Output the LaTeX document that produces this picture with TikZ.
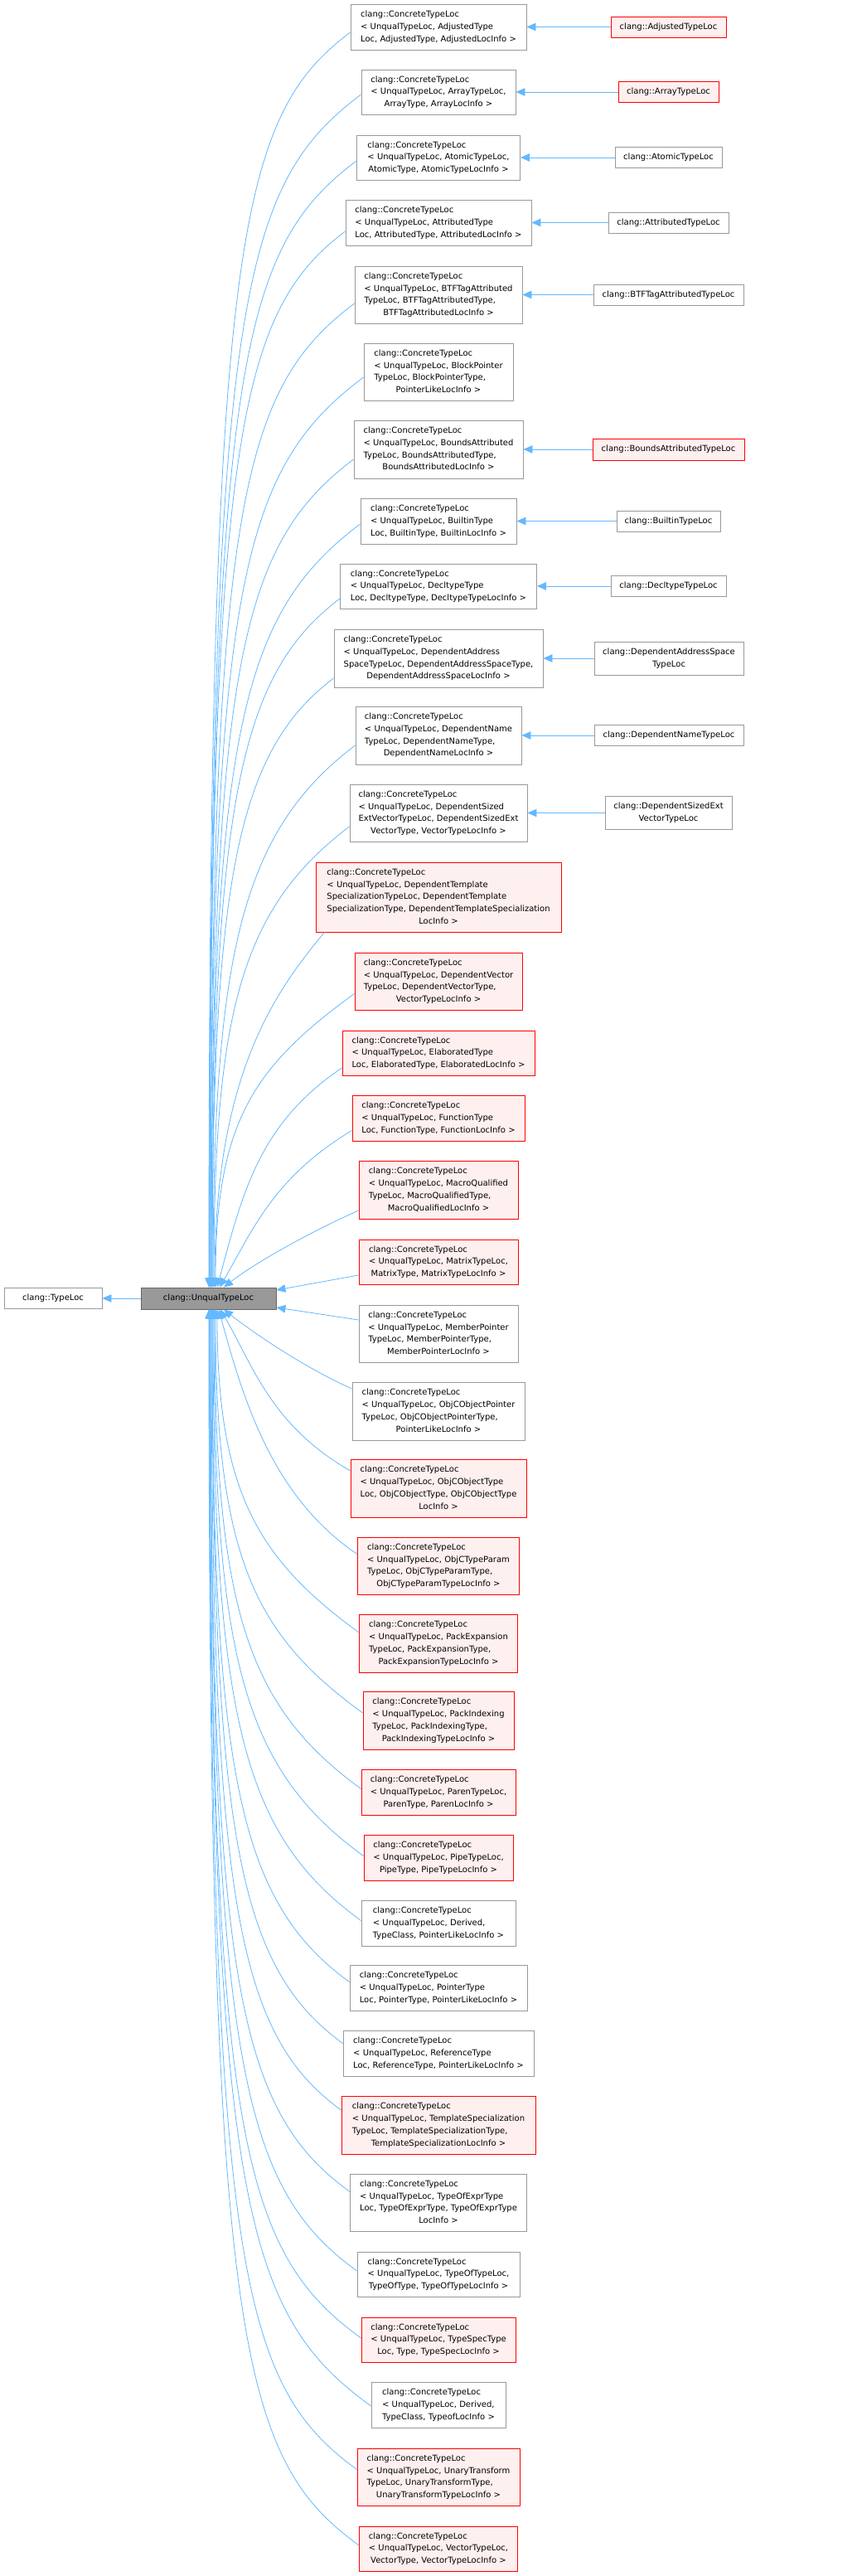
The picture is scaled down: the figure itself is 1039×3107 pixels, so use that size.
\documentclass[tikz,border=0pt]{standalone}
\usepackage{fontspec}
\setmainfont{DejaVu Sans}
\usetikzlibrary{arrows.meta}
\definecolor{edgeblue}{HTML}{63B8FF}
\definecolor{boxgray}{HTML}{999999}
\definecolor{redfill}{HTML}{FFF0F0}
\definecolor{redline}{HTML}{FF0000}
\definecolor{uqborder}{HTML}{666666}
\newcommand\ctl[2]{\begin{tabular}{@{}l@{}}clang::ConcreteTypeLoc\\#1\\\multicolumn{1}{@{}c@{}}{#2}\end{tabular}}
\tikzset{
  base/.style={font=\fontsize{10pt}{14.7pt}\selectfont, inner sep=0pt, line width=0.9pt},
  wbox/.style={base, draw=boxgray, fill=white},
  rbox/.style={base, draw=redline, fill=redfill},
  gbox/.style={base, draw=uqborder, fill=boxgray},
  sz/.style 2 args={minimum width=#1pt, minimum height=#2pt},
  edge/.style={draw=edgeblue, line width=0.8pt, -{Triangle[length=11pt,width=9.5pt,fill=edgeblue]}}
}
\begin{document}
\begin{tikzpicture}[x=1pt,y=1pt]
\useasboundingbox (0,0) rectangle (1039,-3107);
% left
\node[wbox, sz={118}{25}] (tl) at (64,-1566) {clang::TypeLoc};
\node[gbox, sz={163}{26}] (uq) at (251.5,-1566) {clang::UnqualTypeLoc};
% middle column
\node[wbox, sz={212}{55}] (b1) at (529,-32.5) {\ctl{< UnqualTypeLoc, AdjustedType}{Loc, AdjustedType, AdjustedLocInfo >}};
\node[wbox, sz={186}{54}] (b2) at (529,-111) {\ctl{< UnqualTypeLoc, ArrayTypeLoc,}{ArrayType, ArrayLocInfo >}};
\node[wbox, sz={197}{54}] (b3) at (529,-190) {\ctl{< UnqualTypeLoc, AtomicTypeLoc,}{AtomicType, AtomicTypeLocInfo >}};
\node[wbox, sz={224}{55}] (b4) at (529,-268.5) {\ctl{< UnqualTypeLoc, AttributedType}{Loc, AttributedType, AttributedLocInfo >}};
\node[wbox, sz={202}{69}] (b5) at (529,-355.5) {\ctl{< UnqualTypeLoc, BTFTagAttributed\\TypeLoc, BTFTagAttributedType,}{BTFTagAttributedLocInfo >}};
\node[wbox, sz={180}{69}] (b6) at (529,-448.5) {\ctl{< UnqualTypeLoc, BlockPointer\\TypeLoc, BlockPointerType,}{PointerLikeLocInfo >}};
\node[wbox, sz={204}{70}] (b7) at (529,-542) {\ctl{< UnqualTypeLoc, BoundsAttributed\\TypeLoc, BoundsAttributedType,}{BoundsAttributedLocInfo >}};
\node[wbox, sz={188}{55}] (b8) at (529,-628.5) {\ctl{< UnqualTypeLoc, BuiltinType}{Loc, BuiltinType, BuiltinLocInfo >}};
\node[wbox, sz={237}{54}] (b9) at (529,-707) {\ctl{< UnqualTypeLoc, DecltypeType}{Loc, DecltypeType, DecltypeTypeLocInfo >}};
\node[wbox, sz={252}{70}] (b10) at (529,-794) {\ctl{< UnqualTypeLoc, DependentAddress\\SpaceTypeLoc, DependentAddressSpaceType,}{DependentAddressSpaceLocInfo >}};
\node[wbox, sz={200}{70}] (b11) at (529,-887) {\ctl{< UnqualTypeLoc, DependentName\\TypeLoc, DependentNameType,}{DependentNameLocInfo >}};
\node[wbox, sz={214}{69}] (b12) at (529,-980.5) {\ctl{< UnqualTypeLoc, DependentSized\\ExtVectorTypeLoc, DependentSizedExt}{VectorType, VectorTypeLocInfo >}};
\node[rbox, sz={296}{84}] (b13) at (529,-1082) {\ctl{< UnqualTypeLoc, DependentTemplate\\SpecializationTypeLoc, DependentTemplate\\SpecializationType, DependentTemplateSpecialization}{LocInfo >}};
\node[rbox, sz={202}{69}] (b14) at (529,-1183.5) {\ctl{< UnqualTypeLoc, DependentVector\\TypeLoc, DependentVectorType,}{VectorTypeLocInfo >}};
\node[rbox, sz={232}{54}] (b15) at (529,-1270) {\ctl{< UnqualTypeLoc, ElaboratedType}{Loc, ElaboratedType, ElaboratedLocInfo >}};
\node[rbox, sz={208}{55}] (b16) at (529,-1348.5) {\ctl{< UnqualTypeLoc, FunctionType}{Loc, FunctionType, FunctionLocInfo >}};
\node[rbox, sz={192}{70}] (b17) at (529,-1435) {\ctl{< UnqualTypeLoc, MacroQualified\\TypeLoc, MacroQualifiedType,}{MacroQualifiedLocInfo >}};
\node[rbox, sz={192}{54}] (b18) at (529,-1522) {\ctl{< UnqualTypeLoc, MatrixTypeLoc,}{MatrixType, MatrixTypeLocInfo >}};
\node[wbox, sz={192}{69}] (b19) at (529,-1608.5) {\ctl{< UnqualTypeLoc, MemberPointer\\TypeLoc, MemberPointerType,}{MemberPointerLocInfo >}};
\node[wbox, sz={208}{70}] (b20) at (529,-1702) {\ctl{< UnqualTypeLoc, ObjCObjectPointer\\TypeLoc, ObjCObjectPointerType,}{PointerLikeLocInfo >}};
\node[rbox, sz={212}{70}] (b21) at (529,-1795) {\ctl{< UnqualTypeLoc, ObjCObjectType\\Loc, ObjCObjectType, ObjCObjectType}{LocInfo >}};
\node[rbox, sz={195}{69}] (b22) at (529,-1888.5) {\ctl{< UnqualTypeLoc, ObjCTypeParam\\TypeLoc, ObjCTypeParamType,}{ObjCTypeParamTypeLocInfo >}};
\node[rbox, sz={191}{70}] (b23) at (529,-1982) {\ctl{< UnqualTypeLoc, PackExpansion\\TypeLoc, PackExpansionType,}{PackExpansionTypeLocInfo >}};
\node[rbox, sz={182}{70}] (b24) at (529,-2075) {\ctl{< UnqualTypeLoc, PackIndexing\\TypeLoc, PackIndexingType,}{PackIndexingTypeLocInfo >}};
\node[rbox, sz={186}{55}] (b25) at (529,-2161.5) {\ctl{< UnqualTypeLoc, ParenTypeLoc,}{ParenType, ParenLocInfo >}};
\node[rbox, sz={180}{55}] (b26) at (529,-2240.5) {\ctl{< UnqualTypeLoc, PipeTypeLoc,}{PipeType, PipeTypeLocInfo >}};
\node[wbox, sz={186}{55}] (b27) at (529,-2319.5) {\ctl{< UnqualTypeLoc, Derived,}{TypeClass, PointerLikeLocInfo >}};
\node[wbox, sz={214}{55}] (b28) at (529,-2397.5) {\ctl{< UnqualTypeLoc, PointerType}{Loc, PointerType, PointerLikeLocInfo >}};
\node[wbox, sz={230}{55}] (b29) at (529,-2476.5) {\ctl{< UnqualTypeLoc, ReferenceType}{Loc, ReferenceType, PointerLikeLocInfo >}};
\node[rbox, sz={234}{70}] (b30) at (529,-2563) {\ctl{< UnqualTypeLoc, TemplateSpecialization\\TypeLoc, TemplateSpecializationType,}{TemplateSpecializationLocInfo >}};
\node[wbox, sz={213}{69}] (b31) at (529,-2656.5) {\ctl{< UnqualTypeLoc, TypeOfExprType\\Loc, TypeOfExprType, TypeOfExprType}{LocInfo >}};
\node[wbox, sz={196}{54}] (b32) at (529,-2743) {\ctl{< UnqualTypeLoc, TypeOfTypeLoc,}{TypeOfType, TypeOfTypeLocInfo >}};
\node[rbox, sz={186}{54}] (b33) at (529,-2822) {\ctl{< UnqualTypeLoc, TypeSpecType}{Loc, Type, TypeSpecLocInfo >}};
\node[wbox, sz={162}{55}] (b34) at (529,-2900.5) {\ctl{< UnqualTypeLoc, Derived,}{TypeClass, TypeofLocInfo >}};
\node[rbox, sz={196}{69}] (b35) at (529,-2987.5) {\ctl{< UnqualTypeLoc, UnaryTransform\\TypeLoc, UnaryTransformType,}{UnaryTransformTypeLocInfo >}};
\node[rbox, sz={191}{54}] (b36) at (529,-3074) {\ctl{< UnqualTypeLoc, VectorTypeLoc,}{VectorType, VectorTypeLocInfo >}};
% right column
\node[rbox, sz={139}{25}] (r1) at (806.5,-32.5) {clang::AdjustedTypeLoc};
\node[rbox, sz={121}{25}] (r2) at (806.5,-111) {clang::ArrayTypeLoc};
\node[wbox, sz={129}{25}] (r3) at (806.5,-190) {clang::AtomicTypeLoc};
\node[wbox, sz={145}{25}] (r4) at (806.5,-268.5) {clang::AttributedTypeLoc};
\node[wbox, sz={181}{25}] (r5) at (806.5,-355.5) {clang::BTFTagAttributedTypeLoc};
\node[rbox, sz={183}{26}] (r7) at (806.5,-542) {clang::BoundsAttributedTypeLoc};
\node[wbox, sz={125}{25}] (r8) at (806.5,-628.5) {clang::BuiltinTypeLoc};
\node[wbox, sz={139}{25}] (r9) at (806.5,-707) {clang::DecltypeTypeLoc};
\node[wbox, sz={180}{40}, align=center] (r10) at (807,-794) {clang::DependentAddressSpace\\TypeLoc};
\node[wbox, sz={180}{25}] (r11) at (807,-887) {clang::DependentNameTypeLoc};
\node[wbox, sz={153}{40}, align=center] (r12) at (806.5,-980.5) {clang::DependentSizedExt\\VectorTypeLoc};
% right edges
\foreach \i in {1,2,3,4,5,7,8,9,10,11,12}{\draw[edge] (r\i.west) -- (b\i.east);}
% UnqualTypeLoc -> TypeLoc
\draw[edge] (uq.west) -- (tl.east);
% upper edges
\draw[edge] ([yshift=-6.5pt]b1.west) .. controls +(217:171) and +(0,1260) .. ([xshift=0.5pt]uq.north);
\draw[edge] ([yshift=-3pt]b2.west) .. controls +(217:184) and +(0,1190) .. ([xshift=1pt]uq.north);
\draw[edge] ([yshift=-4pt]b3.west) .. controls +(217:178) and +(0,1110) .. ([xshift=1.5pt]uq.north);
\draw[edge] ([yshift=-10.5pt]b4.west) .. controls +(217:164) and +(0,1020) .. ([xshift=1.5pt]uq.north);
\draw[edge] ([yshift=-10.5pt]b5.west) .. controls +(217:174) and +(0,940) .. ([xshift=2.5pt]uq.north);
\draw[edge] ([yshift=-6.5pt]b6.west) .. controls +(217:185) and +(0,850) .. ([xshift=2.5pt]uq.north);
\draw[edge] ([yshift=-12pt]b7.west) .. controls +(217:172) and +(0,750) .. ([xshift=3.5pt]uq.north);
\draw[edge] ([yshift=-3.5pt]b8.west) .. controls +(217:180) and +(0,670) .. ([xshift=3.5pt]uq.north);
\draw[edge] ([yshift=-15pt]b9.west) .. controls +(217:154) and +(0,580) .. ([xshift=4.5pt]uq.north);
\draw[edge] ([yshift=-24pt]b10.west) .. controls +(217:147) and +(0,490) .. ([xshift=4.5pt]uq.north);
\draw[edge] ([yshift=-12pt]b11.west) .. controls +(217:172) and +(0,400) .. ([xshift=5.5pt]uq.north);
\draw[edge] ([yshift=-16.5pt]b12.west) .. controls +(217:164) and +(0,330) .. ([xshift=6.5pt]uq.north);
\draw[edge] ([xshift=11pt]b13.south west) .. controls +(230:100) and +(0,250) .. ([xshift=7.5pt]uq.north);
\draw[edge] ([yshift=-15pt]b14.west) .. controls +(216:150) and +(0,200) .. ([xshift=8.5pt]uq.north);
\draw[edge] ([yshift=-18pt]b15.west) .. controls +(214:120) and +(75:120) .. ([xshift=10.5pt]uq.north);
\draw[edge] ([yshift=-15pt]b16.west) .. controls +(211:110) and +(60:80) .. ([xshift=13.5pt]uq.north);
\draw[edge] ([yshift=-25pt]b17.west) .. controls +(204:60) and +(38:50) .. ([xshift=18.5pt]uq.north);
\draw[edge] ([yshift=-16pt]b18.west) -- ([yshift=10pt]uq.east);
% lower edges
\draw[edge] ([yshift=16.5pt]b19.west) -- ([yshift=-11pt]uq.east);
\draw[edge] ([yshift=27pt]b20.west) .. controls +(156:60) and +(-38:50) .. ([xshift=18.5pt]uq.south);
\draw[edge] ([yshift=21pt]b21.west) .. controls +(150:110) and +(-60:80) .. ([xshift=14.5pt]uq.south);
\draw[edge] ([yshift=14pt]b22.west) .. controls +(146:120) and +(-75:120) .. ([xshift=12.5pt]uq.south);
\draw[edge] ([yshift=13pt]b23.west) .. controls +(144:150) and +(0,-220) .. ([xshift=10.5pt]uq.south);
\draw[edge] ([yshift=9pt]b24.west) .. controls +(144:160) and +(0,-300) .. ([xshift=8.5pt]uq.south);
\draw[edge] ([yshift=4pt]b25.west) .. controls +(144:170) and +(0,-360) .. ([xshift=7.5pt]uq.south);
\draw[edge] ([yshift=2pt]b26.west) .. controls +(144:180) and +(0,-420) .. ([xshift=6.5pt]uq.south);
\draw[edge] ([yshift=3pt]b27.west) .. controls +(144:178) and +(0,-490) .. ([xshift=5.5pt]uq.south);
\draw[edge] ([yshift=7pt]b28.west) .. controls +(144:166) and +(0,-560) .. ([xshift=4.5pt]uq.south);
\draw[edge] ([yshift=12pt]b29.west) .. controls +(144:158) and +(0,-630) .. ([xshift=4.5pt]uq.south);
\draw[edge] ([yshift=18pt]b30.west) .. controls +(144:157) and +(0,-710) .. ([xshift=3.5pt]uq.south);
\draw[edge] ([yshift=13pt]b31.west) .. controls +(144:169) and +(0,-810) .. ([xshift=2.5pt]uq.south);
\draw[edge] ([yshift=4pt]b32.west) .. controls +(144:177) and +(0,-900) .. ([xshift=2.5pt]uq.south);
\draw[edge] ([yshift=2pt]b33.west) .. controls +(144:183) and +(0,-990) .. ([xshift=1.5pt]uq.south);
\draw[edge] ([yshift=-1.5pt]b34.west) .. controls +(144:195) and +(0,-1070) .. ([xshift=1.5pt]uq.south);
\draw[edge] ([yshift=9pt]b35.west) .. controls +(144:178) and +(0,-1150) .. ([xshift=1pt]uq.south);
\draw[edge] ([yshift=4pt]b36.west) .. controls +(144:181) and +(0,-1240) .. ([xshift=0.5pt]uq.south);
\end{tikzpicture}
\end{document}
